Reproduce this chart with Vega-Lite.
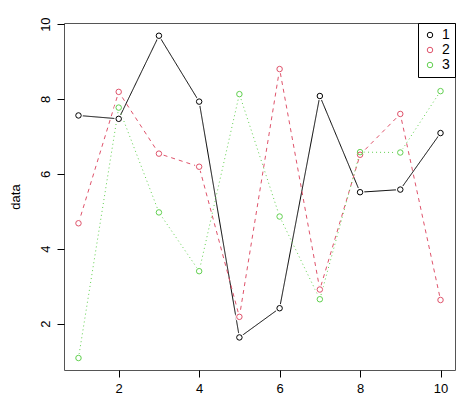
{
  "$schema": "https://vega.github.io/schema/vega-lite/v6.json",
  "autosize": {"type": "none"},
  "padding": {"left": 64, "top": 23, "right": 9, "bottom": 36},
  "width": 391,
  "height": 347,
  "background": "white",
  "config": {
    "view": {"stroke": "#555555", "strokeWidth": 1},
    "font": "Liberation Sans"
  },
  "data": {
    "values": [
      {"x": 1, "series": "1", "v": 7.56}, {"x": 2, "series": "1", "v": 7.47}, {"x": 3, "series": "1", "v": 9.69}, {"x": 4, "series": "1", "v": 7.93}, {"x": 5, "series": "1", "v": 1.63},
      {"x": 6, "series": "1", "v": 2.41}, {"x": 7, "series": "1", "v": 8.08}, {"x": 8, "series": "1", "v": 5.51}, {"x": 9, "series": "1", "v": 5.58}, {"x": 10, "series": "1", "v": 7.09},
      {"x": 1, "series": "2", "v": 4.68}, {"x": 2, "series": "2", "v": 8.19}, {"x": 3, "series": "2", "v": 6.54}, {"x": 4, "series": "2", "v": 6.19}, {"x": 5, "series": "2", "v": 2.18},
      {"x": 6, "series": "2", "v": 8.8}, {"x": 7, "series": "2", "v": 2.91}, {"x": 8, "series": "2", "v": 6.51}, {"x": 9, "series": "2", "v": 7.6}, {"x": 10, "series": "2", "v": 2.63},
      {"x": 1, "series": "3", "v": 1.08}, {"x": 2, "series": "3", "v": 7.77}, {"x": 3, "series": "3", "v": 4.97}, {"x": 4, "series": "3", "v": 3.4}, {"x": 5, "series": "3", "v": 8.13},
      {"x": 6, "series": "3", "v": 4.86}, {"x": 7, "series": "3", "v": 2.65}, {"x": 8, "series": "3", "v": 6.58}, {"x": 9, "series": "3", "v": 6.57}, {"x": 10, "series": "3", "v": 8.21}
    ]
  },
  "encoding": {
    "x": {
      "field": "x", "type": "quantitative",
      "scale": {"domain": [0.64, 10.36], "nice": false, "zero": false},
      "axis": {
        "title": null, "values": [2, 4, 6, 8, 10], "grid": false, "domain": false,
        "tickColor": "black", "tickSize": 7, "labelFontSize": 13, "labelColor": "black",
        "labelPadding": 5, "labelFont": "Liberation Sans"
      }
    },
    "y": {
      "field": "v", "type": "quantitative",
      "scale": {"domain": [0.76, 10.03], "nice": false, "zero": false},
      "axis": {
        "title": "data", "values": [2, 4, 6, 8, 10], "grid": false, "domain": false,
        "tickColor": "black", "tickSize": 7, "labelFontSize": 13, "labelColor": "black",
        "labelAngle": -90, "labelAlign": "center", "labelBaseline": "bottom", "labelPadding": 5,
        "labelFont": "Liberation Sans",
        "titleFontSize": 13, "titleFontWeight": "normal", "titleColor": "black", "titlePadding": 17,
        "titleFont": "Liberation Sans"
      }
    }
  },
  "resolve": {"legend": {"color": "independent"}},
  "layer": [
    {
      "mark": {"type": "line", "strokeWidth": 1},
      "encoding": {
        "color": {"field": "series", "type": "nominal", "scale": {"domain": ["1", "2", "3"], "range": ["black", "#DF536B", "#61D04F"]}, "legend": null},
        "strokeDash": {"field": "series", "type": "nominal", "scale": {"domain": ["1", "2", "3"], "range": [[1, 0], [4, 4], [1, 3]]}, "legend": null},
        "detail": {"field": "series"}
      }
    },
    {
      "mark": {"type": "point", "shape": "circle", "filled": true, "fill": "white", "strokeWidth": 0, "size": 75, "opacity": 1},
      "encoding": {}
    },
    {
      "mark": {"type": "point", "shape": "circle", "filled": false, "strokeWidth": 1, "size": 30, "opacity": 1},
      "encoding": {
        "color": {
          "field": "series", "type": "nominal",
          "scale": {"domain": ["1", "2", "3"], "range": ["black", "#DF536B", "#61D04F"]},
          "legend": {
            "title": null, "orient": "top-right", "offset": 0, "strokeColor": "black", "fillColor": "white",
            "padding": 5, "symbolType": "circle", "symbolSize": 30, "symbolStrokeWidth": 1,
            "symbolFillColor": "transparent", "labelFontSize": 14, "labelColor": "black",
            "labelFont": "Liberation Sans", "rowPadding": 1, "labelOffset": 5, "symbolOffset": 0
          }
        }
      }
    }
  ]
}
